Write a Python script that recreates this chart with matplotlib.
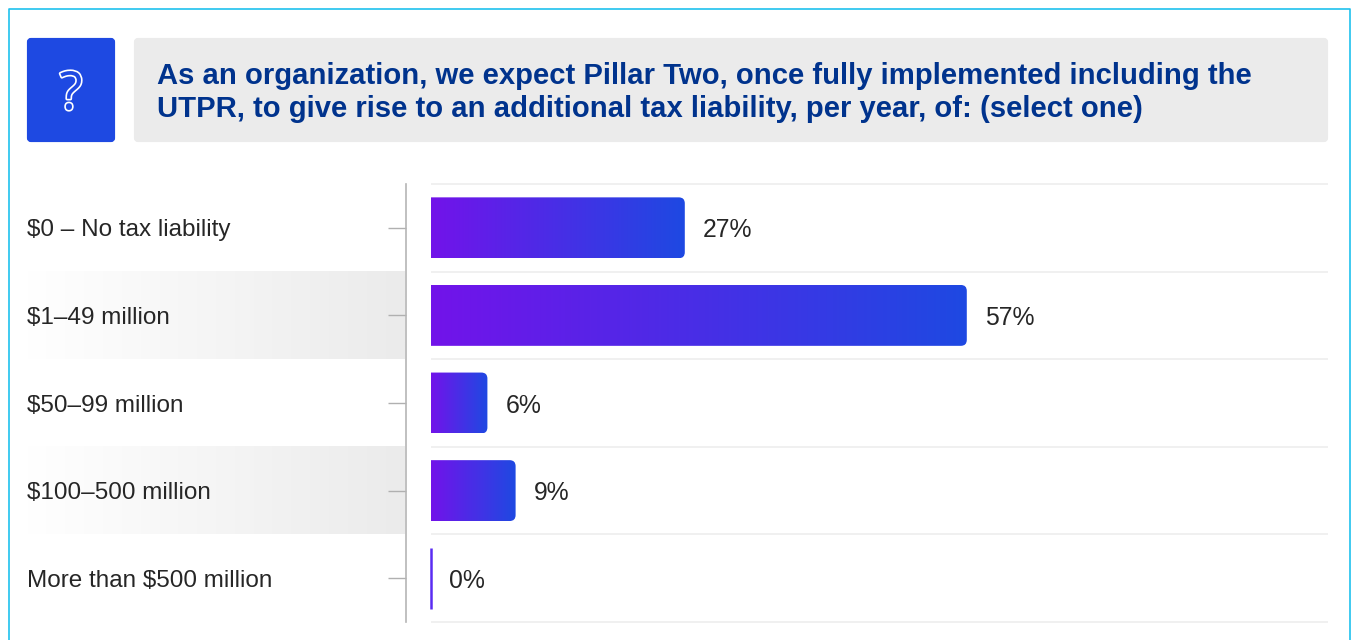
import numpy as np
import matplotlib
matplotlib.use("Agg")
import matplotlib.pyplot as plt
import matplotlib.patheffects as pe
from matplotlib.colors import LinearSegmentedColormap
from matplotlib.patches import FancyBboxPatch, PathPatch
from matplotlib.path import Path

categories = ["$0 – No tax liability", "$1–49 million", "$50–99 million",
              "$100–500 million", "More than $500 million"]
values = [27, 57, 6, 9, 0]
title = ("As an organization, we expect Pillar Two, once fully implemented including the\n"
         "UTPR, to give rise to an additional tax liability, per year, of: (select one)")

W, H = 1351, 640
plt.rcParams["font.family"] = ["Liberation Sans", "DejaVu Sans"]
plt.rcParams["text.parse_math"] = False

fig = plt.figure(figsize=(W / 100, H / 100), dpi=100, facecolor="white")

# page layer in pixel coordinates, for the frame and the header
page = fig.add_axes([0, 0, 1, 1], zorder=0)
page.set_xlim(0, W)
page.set_ylim(H, 0)
page.axis("off")

page.plot([9, 9, 1350, 1350], [H, 9, 9, H], color="#1fc1ee", lw=1.2)

page.add_patch(FancyBboxPatch((29, 40), 84, 100, boxstyle="round,pad=0,rounding_size=2",
                              fc="#1e49e2", ec="#1e49e2", lw=3))
page.text(71, 95.5, "?", color="#1e49e2", fontsize=38, ha="center", va="center",
          family="Open Sans",
          path_effects=[pe.withStroke(linewidth=2.4, foreground="white")])

page.add_patch(FancyBboxPatch((136, 40), 1190, 100, boxstyle="round,pad=0,rounding_size=2",
                              fc="#ebebeb", ec="#ebebeb", lw=3))
page.text(157, 92.5, title, color="#00338d", fontsize=21.05, fontweight="bold",
          ha="left", va="center", linespacing=1.21)

# shaded rows fade in from the left
fade = LinearSegmentedColormap.from_list("fade", ["#ffffff", "#ebebeb"])
ramp = np.linspace(0, 1, 256).reshape(1, -1)
for top, bottom in [(271.5, 359), (447, 534.5)]:
    page.imshow(ramp, cmap=fade, vmin=0, vmax=1, aspect="auto",
                extent=(27, 405, bottom, top), zorder=1)
page.set_xlim(0, W)
page.set_ylim(H, 0)

# chart axes: x = 0 sits at the start of the bars
left, right, top, bottom = 431, 1328, 184, 622
ax = fig.add_axes([left / W, 1 - bottom / H, (right - left) / W, (bottom - top) / H], zorder=1)
ax.patch.set_alpha(0)
pos = np.arange(len(categories))
bar_h = 0.695
ax.set_xlim(0, (right - left) / 9.4)
ax.set_ylim(len(categories) - 0.5, -0.5)

ax.hlines(np.arange(len(categories) + 1) - 0.5, *ax.get_xlim(), color="#ededed", lw=1.2,
          clip_on=False, zorder=1)

bar_cmap = LinearSegmentedColormap.from_list("bar", ["#7213ea", "#1e49e2"])
grad = np.linspace(0, 1, 256).reshape(1, -1)
bars = ax.barh(pos, values, height=bar_h, color="none", zorder=2)
rx, ry = 6 / 9.4, 6 / 87.6
for bar, v in zip(bars, values):
    y0, y1 = bar.get_y(), bar.get_y() + bar.get_height()
    if v == 0:
        # a zero share still shows as a thin stroke on the baseline
        ax.vlines(v, y0, y1, color="#5a2cf2", lw=1.8, zorder=2, clip_on=False)
    else:
        outline = Path([(0, y0), (v - rx, y0), (v, y0), (v, y0 + ry), (v, y1 - ry), (v, y1),
                        (v - rx, y1), (0, y1), (0, y0)],
                       [Path.MOVETO, Path.LINETO, Path.CURVE3, Path.CURVE3, Path.LINETO,
                        Path.CURVE3, Path.CURVE3, Path.LINETO, Path.CLOSEPOLY])
        clip = PathPatch(outline, transform=ax.transData, fc="none", ec="none")
        ax.add_patch(clip)
        im = ax.imshow(grad, cmap=bar_cmap, aspect="auto", extent=(0, v, y1, y0), zorder=2)
        im.set_clip_path(clip)
    ax.annotate(f"{v}%", (v, bar.get_y() + bar.get_height() / 2), xytext=(13, 0),
                textcoords="offset points", ha="left", va="center_baseline",
                fontsize=17.8, color="#262626")

ax.set_xlim(0, (right - left) / 9.4)
ax.set_ylim(len(categories) - 0.5, -0.5)

ax.xaxis.set_visible(False)
for side in ("top", "right", "bottom"):
    ax.spines[side].set_visible(False)
ax.spines["left"].set_position(("outward", 25.5 * 0.72))
ax.spines["left"].set_color("#b5b5b5")
ax.spines["left"].set_linewidth(1.2)
ax.set_yticks(pos)
ax.set_yticklabels(categories, ha="left", fontsize=17.5, color="#262626")
ax.tick_params(axis="y", length=18 * 0.72, width=1, color="#b0b0b0", pad=(387.4 - 27) * 0.72)

fig.savefig("out.png", dpi=100)
